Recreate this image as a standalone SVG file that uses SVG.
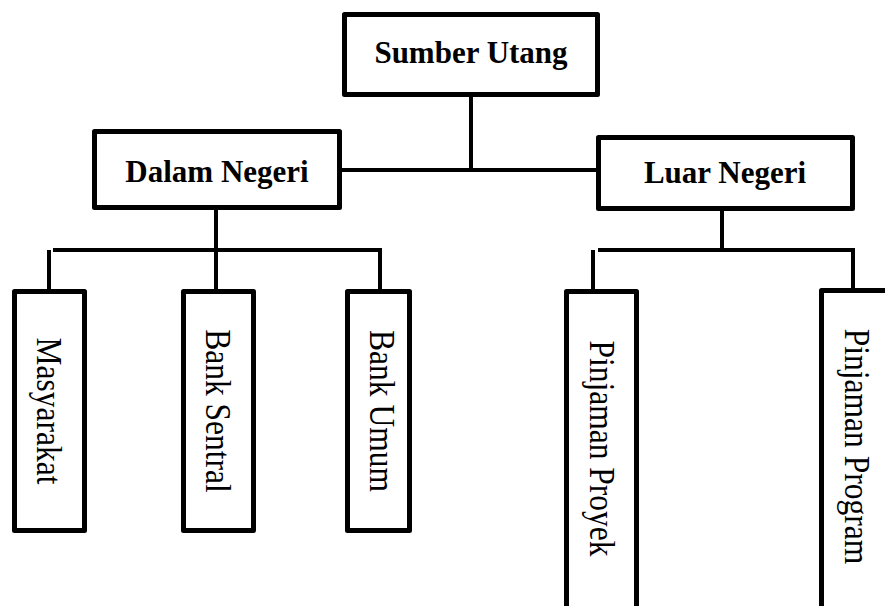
<svg xmlns="http://www.w3.org/2000/svg" width="885" height="606" viewBox="0 0 885 606">
<style>
.box{fill:#fff;stroke:#000;stroke-width:5;stroke-linejoin:round}
.ln{fill:none;stroke:#000;stroke-width:4;stroke-linejoin:miter;stroke-linecap:butt}
.hd{font-family:"Liberation Serif","Times New Roman",serif;font-weight:bold;font-size:31px;text-anchor:middle;fill:#000}
.vt{font-family:"Liberation Serif","Times New Roman",serif;font-size:31.5px;text-anchor:middle;fill:#000}
</style>
<rect width="885" height="606" fill="#fff"/>
<g id="connectors">
<path class="ln" d="M471,97 V172"/>
<path class="ln" d="M342,170 H596"/>
<path class="ln" d="M216,210 V289"/>
<path class="ln" d="M53,250 H380 V289"/>
<path class="ln" d="M49,250 V289"/>
<path class="ln" d="M722,211 V250"/>
<path class="ln" d="M598,250 H853 V289"/>
<path class="ln" d="M593,250 V289"/>
</g>
<g id="sumber-utang">
<rect class="box" x="344.5" y="14.5" width="253" height="80"/>
<text class="hd" x="471" y="63">Sumber Utang</text>
</g>
<g id="dalam-negeri">
<rect class="box" x="94.5" y="131.5" width="245" height="76"/>
<text class="hd" x="217" y="182">Dalam Negeri</text>
</g>
<g id="luar-negeri">
<rect class="box" x="598.5" y="137.5" width="254" height="71"/>
<text class="hd" x="725" y="183">Luar Negeri</text>
</g>
<g id="masyarakat">
<rect class="box" x="14.5" y="291.5" width="70" height="239"/>
<text class="vt" transform="translate(37,411) rotate(90) scale(1,1.12)">Masyarakat</text>
</g>
<g id="bank-sentral">
<rect class="box" x="183.5" y="291.5" width="70" height="239"/>
<text class="vt" transform="translate(206,411) rotate(90) scale(1,1.12)">Bank Sentral</text>
</g>
<g id="bank-umum">
<rect class="box" x="347.5" y="291.5" width="62" height="239"/>
<text class="vt" transform="translate(370,411) rotate(90) scale(1,1.12)">Bank Umum</text>
</g>
<g id="pinjaman-proyek">
<rect class="box" x="566.5" y="291.5" width="70" height="330"/>
<text class="vt" transform="translate(590,448.5) rotate(90) scale(1,1.12)">Pinjaman Proyek</text>
</g>
<g id="pinjaman-program">
<rect class="box" x="821.5" y="290.5" width="70" height="330"/>
<text class="vt" transform="translate(845,446.5) rotate(90) scale(1,1.12)">Pinjaman Program</text>
</g>
</svg>
